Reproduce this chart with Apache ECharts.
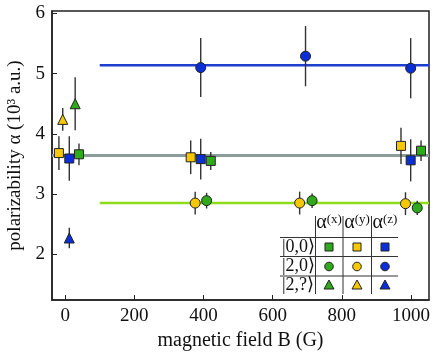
<!DOCTYPE html>
<html><head><meta charset="utf-8">
<script src="https://cdn.jsdelivr.net/npm/echarts@6/dist/echarts.min.js"></script>
<style>html,body{margin:0;padding:0;background:#fff}#c{width:436px;height:352px}</style>
</head><body><div id="c"></div>
<script>
// tick labels
const xTicks = [0, 200, 400, 600, 800, 1000];
const yTicks = [2, 3, 4, 5, 6];
// data: [B (G), alpha (10^3 a.u.), error]
const s00_x = [[40, 3.66, 0.18], [421, 3.55, 0.15], [1029, 3.72, 0.17]];
const s00_y = [[-18, 3.68, 0.28], [363, 3.61, 0.28], [971, 3.80, 0.30]];
const s00_z = [[12, 3.59, 0.37], [392, 3.58, 0.34], [999, 3.56, 0.35]];
const s20_x = [[409, 2.89, 0.13], [714, 2.89, 0.12], [1018, 2.77, 0.12]];
const s20_y = [[376, 2.85, 0.19], [678, 2.85, 0.19], [984, 2.84, 0.19]];
const s20_z = [[392, 5.10, 0.49], [695, 5.29, 0.50], [999, 5.09, 0.50]];
const s2q_x = [[29, 4.50, 0.44]];
const s2q_y = [[-7, 4.24, 0.19]];
const s2q_z = [[12, 2.27, 0.17]];
// fitted levels (start B, value)
const fitStart = [100, -38, 100];
const fitLevel = [5.14, 3.64, 2.85];

const X_MIN = -38, X_MAX = 1052;
const COL = {x: '#2eaa1a', y: '#f7c800', z: '#0a2fd6'};
const fitColors = ['#1d3fd0', '#8c9c98', '#8fdc1a'];
const fitWidths = [2.5, 3, 2.5];
const SERIF = '"Liberation Serif","DejaVu Serif",serif';

const groups = [
  {d: s00_x, c: COL.x, sym: 'rect', size: 9},
  {d: s00_y, c: COL.y, sym: 'rect', size: 9},
  {d: s00_z, c: COL.z, sym: 'rect', size: 9},
  {d: s20_x, c: COL.x, sym: 'circle', size: 10},
  {d: s20_y, c: COL.y, sym: 'circle', size: 10},
  {d: s20_z, c: COL.z, sym: 'circle', size: 10},
  {d: s2q_x, c: COL.x, sym: 'triangle', size: 10},
  {d: s2q_y, c: COL.y, sym: 'triangle', size: 10},
  {d: s2q_z, c: COL.z, sym: 'triangle', size: 10}
];

const series = [];
fitLevel.forEach((v, i) => {
  series.push({
    type: 'line', data: [[fitStart[i], v], [X_MAX, v]], symbol: 'none',
    lineStyle: {color: fitColors[i], width: fitWidths[i]}, z: 1, silent: true
  });
});
const allErr = [].concat(...groups.map(g => g.d));
series.push({
  type: 'custom', data: allErr, z: 2, silent: true,
  renderItem: (params, api) => {
    const x = api.value(0), y = api.value(1), e = api.value(2);
    const p1 = api.coord([x, y - e]), p2 = api.coord([x, y + e]);
    return {type: 'line', shape: {x1: p1[0], y1: p1[1], x2: p2[0], y2: p2[1]},
      style: {stroke: '#333', lineWidth: 1.4}};
  }
});
groups.forEach(g => {
  series.push({
    type: 'scatter', data: g.d, encode: {x: 0, y: 1}, symbol: g.sym, symbolSize: g.size,
    itemStyle: {color: g.c, borderColor: '#222', borderWidth: 1, opacity: 1}, z: 3
  });
});

// legend table (decoration)
const g = [];
const lc = '#333';
[315.5, 343, 371.5].forEach(x => g.push({type: 'line', shape: {x1: x, y1: 216, x2: x, y2: 294}, style: {stroke: lc, lineWidth: 1}}));
[237.5, 256.5, 276].forEach(y => g.push({type: 'line', shape: {x1: 280, y1: y, x2: 398, y2: y}, style: {stroke: lc, lineWidth: 1}}));
const colX = [329, 357, 385];
const rowY = [247, 266.5, 285];
['x', 'y', 'z'].forEach((k, i) => {
  g.push({type: 'text', x: colX[i], y: 223, style: {
    text: '{a|α}{s|(' + k + ')}', align: 'center', verticalAlign: 'middle',
    rich: {a: {fontSize: 20, fontFamily: SERIF, fill: '#111', lineHeight: 20},
           s: {fontSize: 13, fontFamily: SERIF, fill: '#111', verticalAlign: 'top', lineHeight: 20, padding: [0, 0, 9, 0]}}
  }});
});
['|0,0⟩', '|2,0⟩', '|2,?⟩'].forEach((t, r) => {
  g.push({type: 'text', x: 282, y: rowY[r], style: {text: t, font: '18px ' + SERIF, fill: '#111', align: 'left', verticalAlign: 'middle'}});
});
const cs = [COL.x, COL.y, COL.z];
cs.forEach((c, i) => {
  const cx = colX[i];
  g.push({type: 'rect', shape: {x: cx - 4, y: rowY[0] - 4, width: 8, height: 8}, style: {fill: c, stroke: '#222', lineWidth: 1}});
  g.push({type: 'circle', shape: {cx: cx, cy: rowY[1], r: 4.3}, style: {fill: c, stroke: '#222', lineWidth: 1}});
  g.push({type: 'polygon', shape: {points: [[cx, rowY[2] - 5], [cx + 5, rowY[2] + 4], [cx - 5, rowY[2] + 4]]}, style: {fill: c, stroke: '#222', lineWidth: 1}});
});

const chart = echarts.init(document.getElementById('c'), null, {renderer: 'canvas'});
chart.setOption({
  animation: false,
  backgroundColor: '#fff',
  grid: {left: 52, top: 11, right: 7, bottom: 52, show: true, borderColor: '#222', borderWidth: 1.5, outerBoundsMode: 'none', containLabel: false},
  xAxis: {
    type: 'value', min: X_MIN, max: X_MAX,
    name: 'magnetic field B (G)', nameLocation: 'middle', nameGap: 21,
    nameTextStyle: {fontFamily: SERIF, fontSize: 20, color: '#111'},
    axisLine: {show: true, onZero: false, lineStyle: {color: '#222', width: 1.5}},
    axisTick: {show: true, inside: true, length: 5, customValues: xTicks, lineStyle: {color: '#222'}},
    axisLabel: {customValues: xTicks, formatter: v => String(v), fontFamily: SERIF, fontSize: 19, color: '#111', margin: 7},
    splitLine: {show: false}
  },
  yAxis: {
    type: 'value', min: 1.24, max: 6.04,
    name: 'polarizability α (10³ a.u.)', nameLocation: 'middle', nameGap: 26,
    nameTextStyle: {fontFamily: SERIF, fontSize: 19, color: '#111'},
    axisLine: {show: true, onZero: false, lineStyle: {color: '#222', width: 1.5}},
    axisTick: {show: true, inside: true, length: 5, customValues: yTicks, lineStyle: {color: '#222'}},
    axisLabel: {customValues: yTicks, formatter: v => String(v), fontFamily: SERIF, fontSize: 19, color: '#111', margin: 7},
    splitLine: {show: false}
  },
  series: series,
  graphic: g
});
</script></body></html>
